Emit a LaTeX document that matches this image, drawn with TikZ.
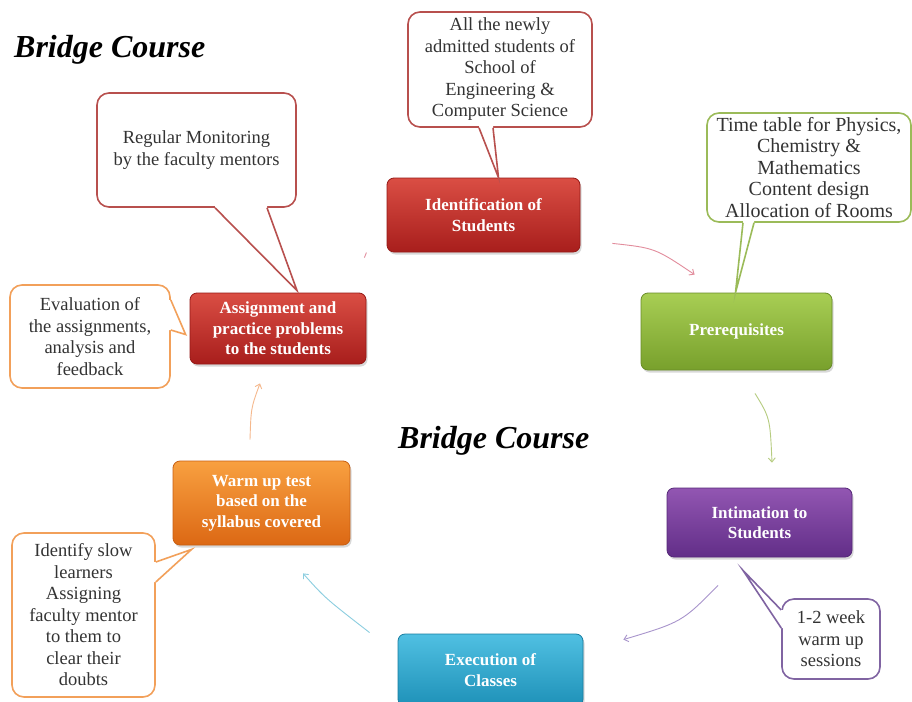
\documentclass[tikz,border=0pt]{standalone}
\usepackage{fontspec}
\setmainfont{Liberation Serif}
\usetikzlibrary{arrows.meta,calc,shadows}
\definecolor{redT}{RGB}{218,78,68}
\definecolor{redB}{RGB}{168,30,28}
\definecolor{redD}{RGB}{150,25,22}
\definecolor{grnT}{RGB}{168,206,84}
\definecolor{grnB}{RGB}{120,160,44}
\definecolor{grnD}{RGB}{105,140,40}
\definecolor{purT}{RGB}{146,86,178}
\definecolor{purB}{RGB}{98,46,136}
\definecolor{purD}{RGB}{85,40,120}
\definecolor{cyaT}{RGB}{80,192,226}
\definecolor{cyaB}{RGB}{30,145,184}
\definecolor{cyaD}{RGB}{25,125,160}
\definecolor{orgT}{RGB}{248,160,64}
\definecolor{orgB}{RGB}{220,104,20}
\definecolor{orgD}{RGB}{200,95,18}
\definecolor{coRed}{RGB}{184,80,78}
\definecolor{coGrn}{RGB}{155,187,89}
\definecolor{coOrg}{RGB}{242,160,90}
\definecolor{coPur}{RGB}{128,100,162}
\definecolor{arPink}{RGB}{226,140,156}
\definecolor{arGrn}{RGB}{182,204,128}
\definecolor{arPur}{RGB}{168,148,204}
\definecolor{arCya}{RGB}{140,206,224}
\definecolor{arOrg}{RGB}{245,184,140}
\newcommand\calltail[5]{%
  \fill[white] ($#2+#5$) -- #2 -- #4 -- #3 -- ($#3+#5$) -- cycle;
  \draw[#1, line width=1.6pt, line join=miter, miter limit=20] #2 -- #4 -- #3;
}
\begin{document}
\begin{tikzpicture}[x=1pt,y=-1pt,
  stepbox/.style={rounded corners=7pt, inner sep=0pt, align=center, text=white,
    line width=0.8pt,
    font=\fontsize{17}{20.5}\selectfont\bfseries,
    drop shadow={opacity=0.3,shadow xshift=1.5pt,shadow yshift=-2.5pt}},
  redbox/.style={stepbox, top color=redT, bottom color=redB, draw=redD},
  grnbox/.style={stepbox, top color=grnT, bottom color=grnB, draw=grnD},
  purbox/.style={stepbox, top color=purT, bottom color=purB, draw=purD},
  cyabox/.style={stepbox, top color=cyaT, bottom color=cyaB, draw=cyaD},
  orgbox/.style={stepbox, top color=orgT, bottom color=orgB, draw=orgD},
  callout/.style={draw, line width=1.6pt, fill=white, rounded corners=12pt,
    inner sep=0pt, align=center, text=black!80,
    font=\fontsize{18.5}{21.5}\selectfont},
  title/.style={inner sep=0pt, font=\fontsize{32}{36}\selectfont\bfseries\itshape},
  flow/.style={line width=0.9pt, -{Straight Barb[length=4pt,width=7pt]}}
]
\clip (0,0) rectangle (912,701);
\fill[white] (0,0) rectangle (912,701);

% titles
\node[title, anchor=base west] (t1) at (14,57) {Bridge Course};
\node[title, anchor=base west] (t2) at (398,448) {Bridge Course};

% step boxes
\node[redbox, minimum width=193pt, minimum height=74pt] (ident) at (483.5,215) {Identification of\\Students};
\node[grnbox, minimum width=191pt, minimum height=77pt] (prereq) at (736.5,331.5) {Prerequisites};
\node[purbox, minimum width=185pt, minimum height=69pt] (intim) at (759.5,522.5) {Intimation to\\Students};
\node[cyabox, minimum width=185pt, minimum height=72pt] (exec) at (490.5,670) {Execution of\\Classes};
\node[orgbox, minimum width=177pt, minimum height=84pt] (warm) at (261.5,503) {Warm up test\\based on the\\syllabus covered};
\node[redbox, minimum width=176pt, minimum height=71pt] (assign) at (278,328.5) {Assignment and\\practice problems\\to the students};

% callouts
\node[callout, draw=coRed, minimum width=184pt, minimum height=115pt] (cTop) at (500,69.5)
  {All the newly\\admitted students of\\School of\\Engineering \&\\Computer Science};
\calltail{coRed}{($(cTop.south)+(-21,0)$)}{($(cTop.south)+(-7,0)$)}{($(ident.north)+(15,0)$)}{(0,-3)}

\node[callout, draw=coGrn, minimum width=204pt, minimum height=109pt,
  font=\fontsize{20}{21.5}\selectfont] (cTime) at (809,167.5)
  {Time table for Physics,\\Chemistry \&\\Mathematics\\Content design\\Allocation of Rooms};
\calltail{coGrn}{($(cTime.south)+(-66,0)$)}{($(cTime.south)+(-55,0)$)}{($(prereq.north)+(-1,0)$)}{(0,-3)}

\node[callout, draw=coRed, minimum width=199pt, minimum height=114pt] (cMon) at (196.5,150)
  {Regular Monitoring\\by the faculty mentors};
\calltail{coRed}{($(cMon.south)+(18.5,0)$)}{($(cMon.south)+(70.5,0)$)}{($(assign.north)+(19,-2)$)}{(0,-3)}

\node[callout, draw=coOrg, minimum width=160pt, minimum height=103pt] (cEval) at (90,336.5)
  {Evaluation of\\the assignments,\\analysis and\\feedback};
\calltail{coOrg}{($(cEval.east)+(0,-36.5)$)}{($(cEval.east)+(0,-6.5)$)}{($(assign.west)+(-4,6)$)}{(-3,0)}

\node[callout, draw=coOrg, minimum width=143pt, minimum height=164pt] (cSlow) at (83.5,615)
  {Identify slow\\learners\\Assigning\\faculty mentor\\to them to\\clear their\\doubts};
\calltail{coOrg}{($(cSlow.east)+(0,-53)$)}{($(cSlow.east)+(0,-33)$)}{($(warm.south west)+(19,4)$)}{(-3,0)}

\node[callout, draw=coPur, minimum width=98pt, minimum height=80pt] (c12) at (831,639)
  {1-2 week\\warm up\\sessions};
\calltail{coPur}{($(c12.west)+(0,-29)$)}{($(c12.west)+(0,-11)$)}{($(intim.south)+(-16.5,13)$)}{(3,0)}

% flow arrows
\coordinate (a1s) at ($(ident.south east)+(32,-9)$);
\coordinate (a1e) at ($(prereq.north west)+(54,-18)$);
\draw[flow, arPink] (a1s) .. controls (655,248) .. (a1e);

\coordinate (a2s) at ($(prereq.south)+(18.5,23)$);
\coordinate (a2e) at ($(intim.north)+(12.5,-25)$);
\draw[flow, arGrn] (a2s) .. controls (770,418) .. (a2e);

\coordinate (a3s) at ($(intim.south)+(-41.5,28)$);
\coordinate (a3e) at ($(exec.north east)+(40,6)$);
\draw[flow, arPur] (a3s) .. controls (682,622) .. (a3e);

\coordinate (a4s) at ($(exec.north west)+(-28,-1)$);
\coordinate (a4e) at ($(warm.south)+(41.5,28)$);
\draw[flow, arCya] (a4s) .. controls (325,598) .. (a4e);

\coordinate (a5s) at ($(warm.north)+(-11.5,-21)$);
\coordinate (a5e) at ($(assign.south)+(-18,19)$);
\draw[flow, arOrg] (a5s) .. controls (251,408) .. (a5e);

\coordinate (a6s) at ($(assign.north east)+(-2,-35)$);
\coordinate (a6e) at ($(assign.north east)+(0,-40)$);
\draw[arPink, line width=0.9pt] (a6s) -- (a6e);
\end{tikzpicture}
\end{document}
